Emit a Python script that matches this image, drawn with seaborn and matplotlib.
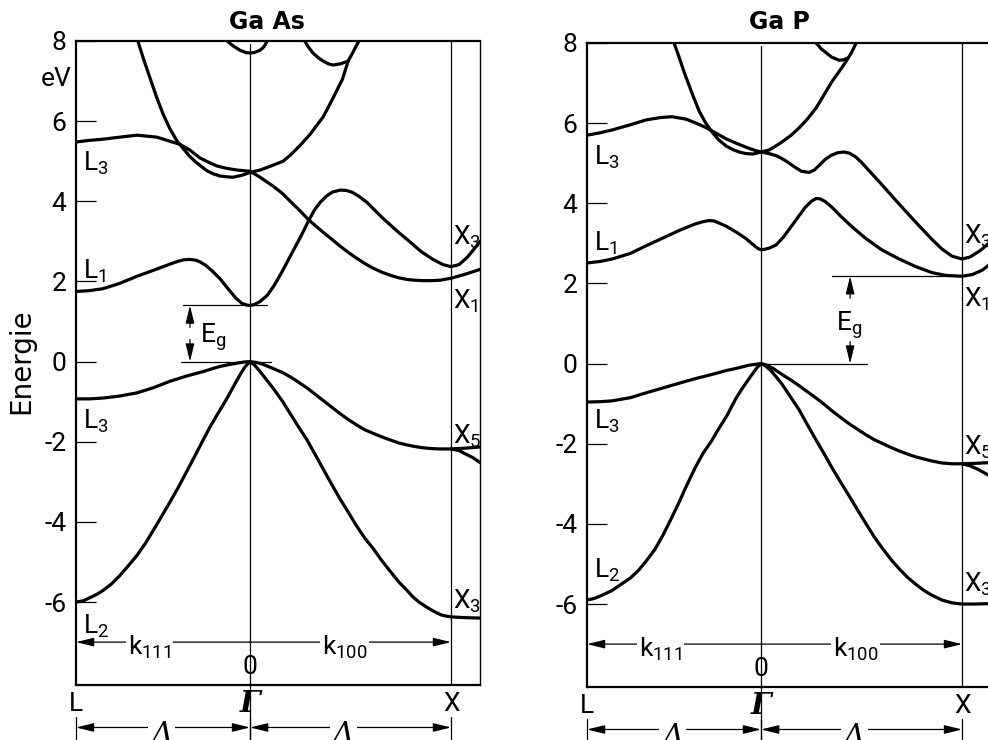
import matplotlib
matplotlib.use("Agg")
import matplotlib.pyplot as plt
import matplotlib.transforms as mtransforms
import pandas as pd
import seaborn as sns

# ---------------------------------------------------------------- data
# k along L-Gamma (negative, |k| in units of 2pi/a) and Gamma-X (positive)
K_L, K_G, K_X, K_EDGE = -0.866, 0.0, 1.0, 1.144
Y_MIN, Y_MAX = -8.07, 7.92

y_ticks = [-6, -4, -2, 0, 2, 4, 6, 8]
y_ticklabels = ["-6", "-4", "-2", "0", "2", "4", "6", "8"]

# ---- GaAs
gaas_vb_low_k = [-0.866, -0.83, -0.80, -0.76, -0.731, -0.69, -0.65, -0.61, -0.562, -0.52, -0.48, -0.44, -0.398, -0.356, -0.316, -0.275,
                 -0.234, -0.20, -0.17, -0.14, -0.114, -0.08, -0.05, -0.025, 0.0,
                 0.025, 0.05, 0.08, 0.114, 0.16, 0.20, 0.24, 0.284, 0.325, 0.366, 0.407, 0.448, 0.49, 0.53, 0.57, 0.612,
                 0.656, 0.70, 0.74, 0.781, 0.81, 0.84, 0.87, 0.896, 0.925, 0.95, 0.975, 1.0, 1.07, 1.144]
gaas_vb_low_e = [-6.00, -5.97, -5.90, -5.80, -5.71, -5.55, -5.35, -5.12, -4.83, -4.53, -4.20, -3.86, -3.50, -3.13, -2.75, -2.36,
                 -1.96, -1.64, -1.38, -1.13, -0.91, -0.60, -0.33, -0.13, 0.0,
                 -0.10, -0.25, -0.44, -0.66, -0.98, -1.30, -1.62, -1.96, -2.33, -2.70, -3.07, -3.43, -3.77, -4.10, -4.40, -4.66,
                 -4.97, -5.25, -5.50, -5.71, -5.87, -6.00, -6.10, -6.18, -6.26, -6.32, -6.35, -6.37, -6.39, -6.40]

gaas_vb_up_k = [-0.866, -0.80, -0.731, -0.65, -0.562, -0.48, -0.398, -0.316, -0.234, -0.19, -0.149, -0.10, -0.065, -0.03, 0.0,
                0.03, 0.06, 0.114, 0.16, 0.20, 0.24, 0.284, 0.325, 0.366, 0.407, 0.448, 0.49, 0.53, 0.57, 0.612, 0.656,
                0.70, 0.74, 0.781, 0.82, 0.86, 0.90, 0.945, 1.0, 1.07, 1.144]
gaas_vb_up_e = [-0.93, -0.93, -0.91, -0.86, -0.78, -0.65, -0.49, -0.36, -0.25, -0.18, -0.12, -0.07, -0.04, -0.01, 0.0,
                -0.02, -0.06, -0.17, -0.27, -0.38, -0.51, -0.66, -0.82, -0.98, -1.14, -1.30, -1.45, -1.58, -1.70, -1.79, -1.88,
                -1.96, -2.03, -2.08, -2.12, -2.15, -2.17, -2.18, -2.18, -2.16, -2.13]
gaas_vb_x_k = [1.0, 1.04, 1.07, 1.11, 1.144]
gaas_vb_x_e = [-2.18, -2.22, -2.30, -2.40, -2.52]

gaas_cb1_k = [-0.866, -0.80, -0.731, -0.65, -0.562, -0.48, -0.40, -0.36, -0.33, -0.30, -0.27, -0.25, -0.22, -0.19, -0.15, -0.11, -0.07, -0.04, -0.015, 0.0,
              0.02, 0.05, 0.085, 0.12, 0.16, 0.20, 0.25, 0.29, 0.32, 0.35, 0.38, 0.41, 0.448, 0.48, 0.51, 0.54, 0.58, 0.612,
              0.656, 0.70, 0.74, 0.781, 0.85, 0.91, 0.96, 1.0, 1.04, 1.08, 1.11, 1.144]
gaas_cb1_e = [1.75, 1.77, 1.82, 1.95, 2.13, 2.28, 2.43, 2.50, 2.54, 2.55, 2.53, 2.49, 2.40, 2.27, 2.07, 1.82, 1.58, 1.45, 1.41, 1.40,
              1.42, 1.50, 1.65, 1.90, 2.25, 2.63, 3.10, 3.50, 3.78, 3.98, 4.13, 4.23, 4.28, 4.27, 4.22, 4.13, 3.98, 3.82,
              3.60, 3.40, 3.22, 3.05, 2.75, 2.55, 2.42, 2.37, 2.42, 2.60, 2.78, 3.00]

gaas_cb2_k = [-0.866, -0.80, -0.731, -0.65, -0.562, -0.463, -0.40, -0.348, -0.30, -0.249, -0.20, -0.164, -0.114, -0.065, 0.0,
              0.05, 0.114, 0.16, 0.20, 0.245, 0.289, 0.33, 0.37, 0.41, 0.448, 0.49, 0.53, 0.57, 0.612, 0.656, 0.70, 0.74, 0.781,
              0.82, 0.86, 0.90, 0.945, 1.0, 1.07, 1.144]
gaas_cb2_e = [5.48, 5.52, 5.55, 5.60, 5.65, 5.60, 5.50, 5.42, 5.28, 5.08, 4.96, 4.88, 4.82, 4.78, 4.75,
              4.60, 4.38, 4.20, 4.00, 3.78, 3.55, 3.37, 3.20, 3.04, 2.88, 2.72, 2.58, 2.45, 2.33, 2.23, 2.15, 2.09, 2.05,
              2.03, 2.02, 2.02, 2.03, 2.08, 2.18, 2.30]

gaas_cb3_k = [-0.557, -0.53, -0.498, -0.465, -0.433, -0.40, -0.363, -0.333, -0.30, -0.27, -0.24, -0.214, -0.18, -0.149, -0.115, -0.085, -0.04, 0.0,
              0.05, 0.114, 0.164, 0.20, 0.25, 0.30, 0.333, 0.363, 0.40, 0.43, 0.46, 0.488, 0.51, 0.525, 0.542]
gaas_cb3_e = [7.98, 7.55, 7.08, 6.60, 6.18, 5.82, 5.50, 5.32, 5.12, 4.98, 4.86, 4.76, 4.68, 4.63, 4.61, 4.60, 4.65, 4.72,
              4.78, 4.90, 5.00, 5.15, 5.40, 5.68, 5.90, 6.10, 6.45, 6.75, 7.05, 7.50, 7.70, 7.85, 8.00]

gaas_top1_k = [-0.114, -0.085, -0.05, -0.02, 0.0, 0.02, 0.05, 0.07, 0.085]
gaas_top1_e = [8.00, 7.88, 7.77, 7.71, 7.70, 7.71, 7.77, 7.86, 8.00]

gaas_top2_k = [0.274, 0.29, 0.313, 0.34, 0.363, 0.39, 0.413, 0.45, 0.488]
gaas_top2_e = [7.98, 7.85, 7.70, 7.58, 7.50, 7.43, 7.40, 7.43, 7.50]

# ---- GaP
gap_vb_low_k = [-0.866, -0.83, -0.80, -0.77, -0.741, -0.70, -0.65, -0.61, -0.572, -0.53, -0.49, -0.45, -0.408, -0.37, -0.33, -0.29,
                -0.244, -0.21, -0.17, -0.124, -0.095, -0.07, -0.045, -0.02, 0.0,
                0.02, 0.05, 0.075, 0.104, 0.145, 0.189, 0.23, 0.274, 0.315, 0.353, 0.395, 0.438, 0.48, 0.52, 0.56, 0.602,
                0.645, 0.687, 0.73, 0.771, 0.81, 0.85, 0.90, 0.95, 1.0, 1.06, 1.144]
gap_vb_low_e = [-5.90, -5.86, -5.80, -5.73, -5.66, -5.52, -5.35, -5.16, -4.93, -4.65, -4.30, -3.90, -3.46, -3.04, -2.62, -2.25,
                -1.91, -1.62, -1.30, -0.86, -0.63, -0.45, -0.27, -0.10, 0.0,
                -0.05, -0.18, -0.33, -0.51, -0.82, -1.15, -1.52, -1.91, -2.26, -2.60, -2.95, -3.30, -3.65, -3.98, -4.30, -4.60,
                -4.88, -5.12, -5.34, -5.51, -5.66, -5.78, -5.90, -5.97, -6.00, -6.00, -5.99]

gap_vb_up_k = [-0.866, -0.80, -0.741, -0.65, -0.572, -0.49, -0.408, -0.33, -0.244, -0.17, -0.124, -0.06, 0.0,
               0.03, 0.06, 0.104, 0.145, 0.189, 0.23, 0.274, 0.315, 0.353, 0.395, 0.438, 0.48, 0.52, 0.56, 0.602, 0.645,
               0.687, 0.73, 0.771, 0.81, 0.85, 0.90, 0.95, 1.0, 1.06, 1.144]
gap_vb_up_e = [-0.96, -0.95, -0.93, -0.85, -0.73, -0.61, -0.49, -0.38, -0.27, -0.17, -0.12, -0.04, 0.0,
               -0.04, -0.12, -0.27, -0.40, -0.55, -0.70, -0.86, -1.02, -1.18, -1.34, -1.50, -1.64, -1.77, -1.89, -1.99, -2.09,
               -2.18, -2.26, -2.33, -2.38, -2.43, -2.48, -2.50, -2.50, -2.49, -2.47]
gap_vb_x_k = [1.0, 1.04, 1.08, 1.144]
gap_vb_x_e = [-2.50, -2.55, -2.64, -2.82]

gap_cb1_k = [-0.866, -0.80, -0.741, -0.65, -0.572, -0.49, -0.408, -0.37, -0.33, -0.29, -0.259, -0.235, -0.21, -0.17, -0.12, -0.075, -0.04, -0.015, 0.0,
             0.015, 0.04, 0.075, 0.11, 0.15, 0.189, 0.22, 0.25, 0.274, 0.295, 0.32, 0.353, 0.40, 0.46, 0.522, 0.60, 0.687, 0.77,
             0.85, 0.92, 1.0, 1.05, 1.10, 1.144]
gap_cb1_e = [2.51, 2.55, 2.61, 2.75, 2.94, 3.13, 3.32, 3.40, 3.48, 3.54, 3.57, 3.56, 3.51, 3.42, 3.27, 3.12, 2.97, 2.87, 2.84,
             2.85, 2.88, 2.96, 3.15, 3.42, 3.69, 3.90, 4.05, 4.12, 4.11, 4.04, 3.90, 3.66, 3.38, 3.12, 2.84, 2.61, 2.42,
             2.27, 2.20, 2.18, 2.22, 2.33, 2.50]

gap_cb2_k = [-0.866, -0.80, -0.741, -0.65, -0.572, -0.50, -0.443, -0.373, -0.323, -0.27, -0.224, -0.17, -0.124, -0.075, -0.03, 0.0,
             0.04, 0.08, 0.12, 0.16, 0.20, 0.239, 0.265, 0.29, 0.32, 0.35, 0.38, 0.413, 0.44, 0.47, 0.50, 0.54, 0.602, 0.687,
             0.771, 0.85, 0.90, 0.95, 1.0, 1.04, 1.09, 1.144]
gap_cb2_e = [5.70, 5.76, 5.83, 5.96, 6.08, 6.14, 6.16, 6.10, 6.00, 5.88, 5.75, 5.60, 5.50, 5.40, 5.32, 5.28,
             5.24, 5.18, 5.07, 4.93, 4.80, 4.77, 4.83, 4.95, 5.10, 5.20, 5.26, 5.28, 5.25, 5.16, 5.02, 4.80, 4.46, 3.98,
             3.52, 3.10, 2.86, 2.68, 2.61, 2.66, 2.82, 3.05]

gap_cb3_k = [-0.433, -0.41, -0.39, -0.373, -0.34, -0.308, -0.275, -0.244, -0.21, -0.174, -0.14, -0.109, -0.075, -0.04, 0.0,
             0.04, 0.07, 0.104, 0.15, 0.189, 0.23, 0.274, 0.31, 0.353, 0.39, 0.423, 0.45, 0.473]
gap_cb3_e = [8.00, 7.68, 7.38, 7.14, 6.70, 6.30, 6.00, 5.78, 5.58, 5.43, 5.34, 5.28, 5.24, 5.23, 5.28,
             5.33, 5.42, 5.53, 5.70, 5.88, 6.10, 6.38, 6.68, 7.04, 7.30, 7.54, 7.76, 8.00]

gap_top_k = [0.274, 0.30, 0.323, 0.35, 0.388, 0.41, 0.428]
gap_top_e = [8.00, 7.85, 7.76, 7.65, 7.57, 7.58, 7.62]

# energy gaps (conduction minimum above valence maximum at 0 eV)
gaas_eg = 1.40
gap_eg = 2.18

# symmetry-point labels: (text, k, E)
gaas_labels = [("L_3", K_L, 4.95), ("L_1", K_L, 2.25), ("L_3", K_L, -1.50), ("L_2", K_L, -6.60),
               ("X_3", K_X, 3.10), ("X_1", K_X, 1.50), ("X_5", K_X, -1.86), ("X_3", K_X, -5.98)]
gap_labels = [("L_3", K_L, 5.15), ("L_1", K_L, 3.00), ("L_3", K_L, -1.45), ("L_2", K_L, -5.15),
              ("X_3", K_X, 3.17), ("X_1", K_X, 1.60), ("X_5", K_X, -2.08), ("X_3", K_X, -5.50)]

# ---------------------------------------------------------------- style
sns.set_theme(style="white")
FONT = ["Roboto", "DejaVu Sans"]
plt.rcParams["font.family"] = FONT
plt.rcParams["mathtext.fontset"] = "custom"
plt.rcParams["mathtext.rm"] = "Roboto"
plt.rcParams["mathtext.it"] = "Roboto:italic"
for key in ["text.color", "axes.labelcolor", "xtick.color", "ytick.color", "axes.edgecolor"]:
    plt.rcParams[key] = "black"

BAND_LW = 2.3
THIN_LW = 0.9
SERIF_IT = dict(family=["DejaVu Serif"], style="italic")


def bands_frame(series):
    rows = []
    for name, ks, es in series:
        for k, e in zip(ks, es):
            rows.append({"k": k, "E": e, "band": name})
    return pd.DataFrame(rows)


def arrow(ax, x0, y0, x1, y1, style="-|>"):
    ax.annotate("", xy=(x1, y1), xytext=(x0, y0), annotation_clip=False,
                arrowprops=dict(arrowstyle=f"{style},head_length=0.9,head_width=0.22",
                                color="black", lw=THIN_LW, shrinkA=0, shrinkB=0,
                                mutation_scale=12))


def draw_panel(ax, series, labels, eg, eg_line, eg_zero, eg_arrow_k, eg_text, title_x, fig, title):
    df = bands_frame(series)
    sns.lineplot(data=df, x="k", y="E", units="band", estimator=None, sort=False,
                 color="black", lw=BAND_LW, ax=ax, legend=False)
    ax.set_xlim(K_L, K_EDGE)
    ax.set_ylim(Y_MIN, Y_MAX)
    ax.set_xlabel("")
    ax.set_ylabel("")
    ax.set_xticks([])
    ax.set_yticks(y_ticks)
    ax.set_yticklabels(y_ticklabels)
    ax.tick_params(axis="y", direction="in", length=14.5, width=THIN_LW, pad=7,
                   labelsize=19, left=True, color="black", labelcolor="black")
    for side in ["left", "top", "bottom"]:
        ax.spines[side].set_linewidth(1.6)
    ax.spines["right"].set_linewidth(1.0)

    # Gamma and X lines; Gamma line continues down to the bracket row
    ax.plot([K_G, K_G], [Y_MAX, -9.6], color="black", lw=THIN_LW, clip_on=False)
    ax.axvline(K_X, color="black", lw=THIN_LW)

    # k-direction arrow inside the frame
    yk = -7.0
    arrow(ax, K_G, yk, K_L, yk)
    arrow(ax, K_G, yk, K_X, yk)
    ax.text(-0.50, yk - 0.12, r"$\mathregular{k_{111}}$", ha="center", va="center", fontsize=19,
            bbox=dict(facecolor="white", edgecolor="none", pad=1.5))
    ax.text(0.47, yk - 0.12, r"$\mathregular{k_{100}}$", ha="center", va="center", fontsize=19,
            bbox=dict(facecolor="white", edgecolor="none", pad=1.5))
    ax.text(K_G, -7.62, "0", ha="center", va="center", fontsize=19)

    # energy gap marker
    ax.plot(eg_line, [eg, eg], color="black", lw=THIN_LW)
    ax.plot(eg_zero, [0, 0], color="black", lw=THIN_LW)
    arrow(ax, eg_arrow_k, eg - 0.55, eg_arrow_k, eg)
    arrow(ax, eg_arrow_k, 0.55, eg_arrow_k, 0.0)
    ax.text(eg_text[0], eg_text[1], r"$\mathregular{E_g}$", ha=eg_text[2], va="center", fontsize=19)

    # symmetry-point labels
    for txt, k, e in labels:
        ax.text(k + 0.035 if k < 0 else k + 0.008, e, r"$\mathregular{" + txt + "}$",
                ha="left", va="center", fontsize=19)

    # labels under the frame
    for txt, k in [("L", K_L), ("X", K_X)]:
        ax.text(k, -8.55, txt, ha="center", va="center", fontsize=19)
    ax.text(K_G, -8.53, "Γ", ha="center", va="center", fontsize=21, weight="bold", **SERIF_IT)

    yb = -9.13
    for k in [K_L, K_G, K_X]:
        ax.plot([k, k], [-8.88, -9.6], color="black", lw=THIN_LW, clip_on=False)
    arrow(ax, (K_L + K_G) / 2, yb, K_L, yb)
    arrow(ax, (K_L + K_G) / 2, yb, K_G, yb)
    arrow(ax, (K_G + K_X) / 2, yb, K_G, yb)
    arrow(ax, (K_G + K_X) / 2, yb, K_X, yb)
    ax.text(-0.44, -8.98, "Λ", ha="center", va="top", fontsize=21, clip_on=False,
            bbox=dict(facecolor="white", edgecolor="none", pad=2), **SERIF_IT)
    ax.text(0.465, -8.98, "Δ", ha="center", va="top", fontsize=21, clip_on=False,
            bbox=dict(facecolor="white", edgecolor="none", pad=2), **SERIF_IT)

    fig.text(title_x, 1 - 22 / 740, title, ha="center", va="center", fontsize=17,
             weight="bold", family=["DejaVu Sans"])


fig = plt.figure(figsize=(9.88, 7.40), dpi=100)
ax1 = fig.add_axes([76 / 988, 1 - 685 / 740, 404 / 988, 644 / 740])
ax2 = fig.add_axes([587 / 988, 1 - 687 / 740, 404 / 988, 644 / 740])

gaas_series = [("vb_low", gaas_vb_low_k, gaas_vb_low_e), ("vb_up", gaas_vb_up_k, gaas_vb_up_e),
               ("vb_x", gaas_vb_x_k, gaas_vb_x_e), ("cb1", gaas_cb1_k, gaas_cb1_e),
               ("cb2", gaas_cb2_k, gaas_cb2_e), ("cb3", gaas_cb3_k, gaas_cb3_e),
               ("top1", gaas_top1_k, gaas_top1_e), ("top2", gaas_top2_k, gaas_top2_e)]
gap_series = [("vb_low", gap_vb_low_k, gap_vb_low_e), ("vb_up", gap_vb_up_k, gap_vb_up_e),
              ("vb_x", gap_vb_x_k, gap_vb_x_e), ("cb1", gap_cb1_k, gap_cb1_e),
              ("cb2", gap_cb2_k, gap_cb2_e), ("cb3", gap_cb3_k, gap_cb3_e),
              ("top", gap_top_k, gap_top_e)]

draw_panel(ax1, gaas_series, gaas_labels, gaas_eg, [-0.333, 0.085], [-0.343, 0.104], -0.299,
           (-0.25, 0.62, "left"), 267 / 988, fig, "Ga As")
draw_panel(ax2, gap_series, gap_labels, gap_eg, [0.353, K_X], [0.0, 0.527], 0.443,
           (0.44, 0.95, "center"), 779 / 988, fig, "Ga P")

side = mtransforms.blended_transform_factory(ax1.transAxes, ax1.transData)
ax1.text(-0.05, 7.05, "eV", transform=side, ha="center", va="center", fontsize=19)
ax1.text(-0.135, 0.0, "Energie", transform=side, ha="center", va="center", fontsize=20,
         rotation=90, family=["DejaVu Sans"])

fig.savefig("out.png", dpi=100)
